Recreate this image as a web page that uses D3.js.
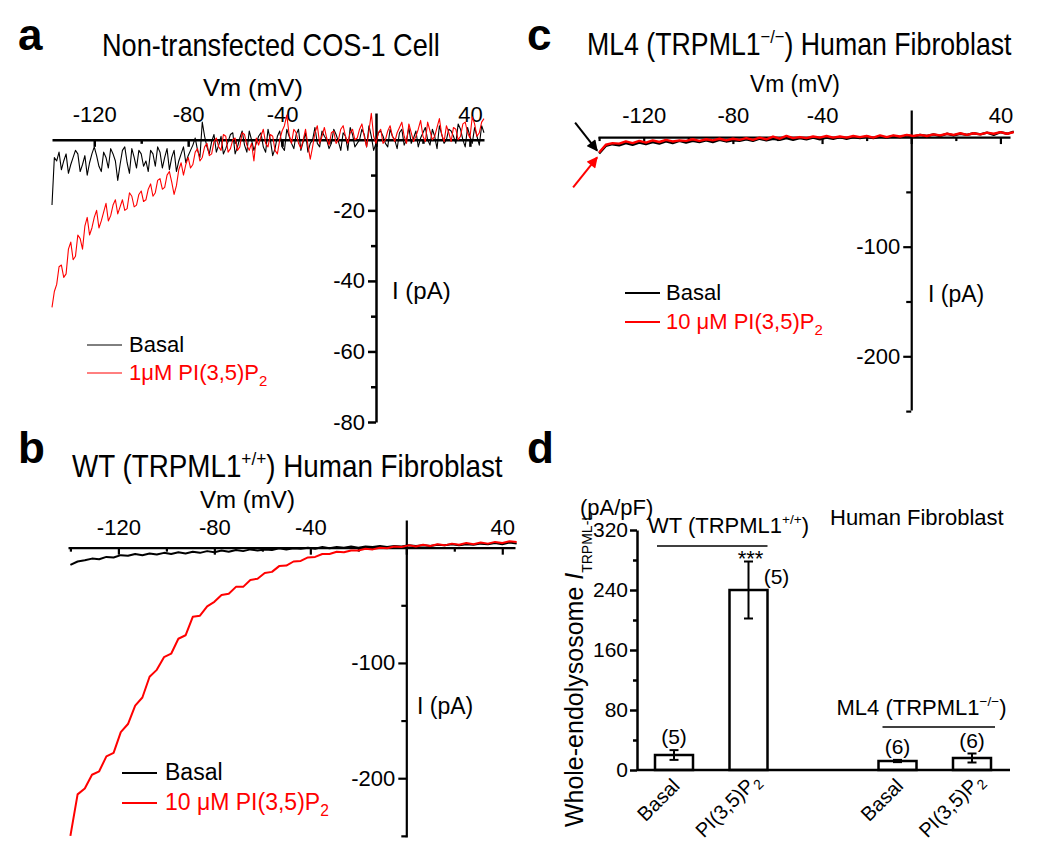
<!DOCTYPE html>
<html>
<head>
<meta charset="utf-8">
<script src="https://cdn.jsdelivr.net/npm/d3@7"></script>
<style>
  body { margin: 0; background: #fff; }
</style>
</head>
<body>
<svg id="fig" width="1050" height="846"></svg>
<script>
// ---------- data ----------
// panel a: non-transfected COS-1, sweep -138..46 mV, 1 mV per sample
const vmA = [-138,-137,-136,-135,-134,-133,-132,-131,-130,-129,-128,-127,-126,-125,-124,-123,-122,-121,-120,-119,
  -118,-117,-116,-115,-114,-113,-112,-111,-110,-109,-108,-107,-106,-105,-104,-103,-102,-101,-100,-99,
  -98,-97,-96,-95,-94,-93,-92,-91,-90,-89,-88,-87,-86,-85,-84,-83,-82,-81,-80,-79,
  -78,-77,-76,-75,-74,-73,-72,-71,-70,-69,-68,-67,-66,-65,-64,-63,-62,-61,-60,-59,
  -58,-57,-56,-55,-54,-53,-52,-51,-50,-49,-48,-47,-46,-45,-44,-43,-42,-41,-40,-39,
  -38,-37,-36,-35,-34,-33,-32,-31,-30,-29,-28,-27,-26,-25,-24,-23,-22,-21,-20,-19,
  -18,-17,-16,-15,-14,-13,-12,-11,-10,-9,-8,-7,-6,-5,-4,-3,-2,-1,0,1,
  2,3,4,5,6,7,8,9,10,11,12,13,14,15,16,17,18,19,20,21,
  22,23,24,25,26,27,28,29,30,31,32,33,34,35,36,37,38,39,40,41,
  42,43,44,45,46];
const basalA = [-18.5,-5,-6,-3.5,-8.5,-6,-4,-9.5,-7,-5, -3,-4,-9,-7,-4.5,-10,-6.5,-4,-2,-4.5,
  -7.5,-9,-3.5,-5,-8,-2.5,-4,-6,-11.5,-7, -3,-2,-6.5,-9.5,-2.5,-5,-8,-3,-4,-7.5,
  -6,-9,-3,-4,-7.5,-2,-3.5,-8,-5,-2.5, -8.5,-5,-3,-9,-6,-4,-2,-6.5,-4.5,-3,
  -1.5,0.5,-3,-5,5,1,-2,-4,-0.5,1.5, -3.5,-1.5,1,-4,-2.5,-0.5,1.5,2,-4,-2,
  0.5,2.5,-1.5,-3.5,2.5,0,-3,-1,1,2, -2,-3.5,3,0,-4.5,-2.5,1,2.5,-2,-3,
  3,1,-1,-2.5,1.5,3,-3,-0.5,2,-3.5, -1,0,3.5,-1,-2,2.5,1,0,-2.5,-1,
  3,1.5,-0.5,-3,2,1,-3,3.5,1.5,-2, -1,0,3,1.5,-2,4,1,-3,-1,2,
  2.5,1,-1,-2,3,1,0,-2.5,2,3, -1.5,0,3.5,-1,0.5,2.5,-2,0.5,2,3.5,
  0,-1.5,3,1,-2.5,4,1.5,-1,0,3, 2.5,1,-1,4.5,3,0,-2,3.5,1,-1,
  3.5,1,-1.5,4,2];
const pipA = [-47.5,-43,-41,-36,-35.5,-39,-38,-31,-29,-34, -33,-27,-28,-31,-24.5,-22,-27,-25,-22,-20,
  -25,-23,-20.5,-18,-23,-21.5,-18.5,-17,-21,-19, -17,-20,-19.5,-15,-16,-19,-18.5,-15.5,-14.5,-17.5,
  -17,-14,-12.5,-16,-15,-11.5,-11,-14,-13.5,-10, -9,-12,-15.5,-13,-8.5,-6.5,-10,-7,-5,-8,
  -7,-3.5,-2.5,-6,-5,-2,-1,-4.5,-4,-0.5, 0.5,-2,-3,1.5,1,-3.5,-2.5,0,0.5,-3,
  -2,2,1.5,-1.5,-3,-1,-6,0.5,-1.5,1, 3,-1,-2,1.5,1,-3,-4,0,2.5,4,
  7,1.5,-1,3,2,-1,-2.5,0,3,-1.5, -5.5,-2,2,4,-1,1,3.5,0.5,-1.5,2,
  2.5,-1,0,3,4,1,-1,2,3,0, 0.5,3,4.5,1,-2,2.5,7.5,1,-1,2,
  3,-1,0,2.5,4,1,-0.5,2,3.5,5, 1,-1,4.5,2,-0.5,1,3,5.5,1,-0.5,
  5,2.5,0,1,3.5,6,1.5,-0.5,4,2, -0.5,3.5,3,0,1,4.5,5,2,0.5,6.5,
  4.5,1,2,5,6];

// panels b and c: human fibroblasts, sweep -140..46 mV
const vmBC = [-140,-137,-134,-131,-128,-125,-122,-119,-116,-113,-110,-107,-104,-101,-98,-95,-92,-89,-86,-83,
  -80,-77,-74,-71,-68,-65,-62,-59,-56,-53,-50,-47,-44,-41,-38,-35,-32,-29,-26,-23,-20,-17,-14,-11,-8,-5,-2,
  1,4,7,10,13,16,19,22,25,28,31,34,37,40,43,46];
const basalB = [-15,-12,-11,-9.5,-10,-8,-8.5,-6.5,-7,-5.5, -6.5,-5,-6,-4.5,-5.5,-4,-5,-3.5,-4.5,-3,
  -4,-2.5,-3.5,-2,-3,-1.5,-2.5,-1.5,-2,-0.5, -1.5,-0.5,-1,0,-1,0.5,-0.5,0.5,0,1,
  0,1,0.5,1.5,0.5,1.5,1,2,1.5,2, 1.5,2.5,2,3,2,3,2.5,3.5,3,4, 3,4.5,3.5];
const pipB = [-250,-214,-209,-197,-194,-181,-178,-160,-153,-137, -130,-112,-106,-95,-92,-79,-76,-60,-59,-51,
  -47,-41,-40,-34,-34,-28,-27,-22,-21,-16, -15.5,-12,-11.5,-8.5,-8,-5.5,-5.5,-3.5,-4,-2.5,
  -2.5,-1,-1.5,0,-0.5,1,0.5,2,1,2.5, 1.5,3,2,3.5,2.5,4,3,4.5,3.5,5, 4,5.5,5];
const basalC = [-15,-8,-6.5,-7.5,-5.5,-7,-5,-6.5,-4.5,-6, -4,-5.5,-3.5,-5,-3.5,-4.5,-3,-4.5,-2.5,-4,
  -3,-3.5,-2,-3.5,-1.5,-3,-1.5,-2.5,-1,-2.5, -1,-2,-0.5,-2,-0.5,-1.5,0,-1.5,0,-1,
  0.5,-1,0.5,-0.5,1,0,1.5,0.5,2,1, 2.5,1,3,1.5,3,2,3.5,2.5,4,2, 4.5,3,5];
const pipC = [-14,-7,-5.5,-6,-4,-5.5,-3.5,-5,-3,-4.5, -2.5,-4,-3,-3.5,-2,-3.5,-2,-3,-1.5,-3,
  -1.5,-2.5,-1,-2.5,-0.5,-2,0.5,-1.5,1,-1, 0,-1,0.5,-0.5,1,-0.5,0.5,-0.5,1,0,
  1,-0.5,1.5,0,1.5,0.5,2,1,2,1, 2.5,1.5,3,2,3.5,2,3.5,2.5,4,3, 4.5,3,4.5];

// panel d: whole-endolysosome current density (pA/pF)
const barGroups = ["WT", "ML4"];
const barConds = ["Basal", "PI(3,5)P"];
const barMeans = [[20, 240], [12, 16]];
const barSems = [[6.5, 38], [1.5, 6]];
const barN = [[5, 5], [6, 6]];
const barStars = [["", "***"], ["", ""]];

// ---------- drawing ----------
const svg = d3.select("#fig");
const RED = "#ff0000";
const FONT = '"Liberation Sans", Arial, Helvetica, sans-serif';
svg.attr("font-family", FONT);

// text with optional super/subscripts; width squeezes it horizontally
function addText(x, y, size, parts, opts = {}) {
  const host = opts.parent || svg;
  const t = host.append("text").attr("x", x).attr("y", y)
    .attr("font-size", size).attr("fill", opts.fill || "#000");
  if (opts.anchor) t.attr("text-anchor", opts.anchor);
  if (opts.weight) t.attr("font-weight", opts.weight);
  if (typeof parts === "string") parts = [{ t: parts }];
  let shift = 0;
  parts.forEach(p => {
    let target = 0, fsz = size;
    if (p.sup) { target = -0.4 * size; fsz = 0.62 * size; }
    if (p.sub) { target = p.shift != null ? p.shift : 0.25 * size; fsz = p.size || 0.68 * size; }
    const ts = t.append("tspan").attr("dy", target - shift).attr("font-size", fsz).text(p.t);
    if (p.italic) ts.attr("font-style", "italic");
    shift = target;
  });
  if (opts.width) {
    const w = t.node().getBBox().width;
    t.attr("x", null).attr("y", null)
      .attr("transform", `translate(${x},${y}) scale(${opts.width / w},1)`);
  }
  if (opts.rotate != null) {
    t.attr("x", null).attr("y", null)
      .attr("transform", `translate(${x},${y}) rotate(${opts.rotate})`);
  }
  return t;
}

function styleAxis(a, w, fs) {
  a.attr("font-family", FONT).attr("font-size", fs);
  a.selectAll("path, line").attr("stroke", "#000").attr("stroke-width", w);
  a.selectAll("text").attr("fill", "#000");
}

function drawIV(p) {
  const x = d3.scaleLinear().domain(p.xDomain).range(p.xRange);
  const y = d3.scaleLinear().domain(p.yDomain).range(p.yRange);
  const g = svg.append("g");
  const fmt = d => d === 0 ? "" : String(d);

  // x axis sits on I = 0, labels above, ticks hanging down
  g.append("g").attr("transform", `translate(0,${y(0)})`)
    .call(d3.axisTop(x).tickValues(p.xMinor).tickSizeInner(-4).tickSizeOuter(0).tickFormat(""))
    .call(a => a.select(".domain").remove())
    .call(a => styleAxis(a, p.axisW, 22));
  g.append("g").attr("transform", `translate(0,${y(0)})`)
    .call(d3.axisTop(x).tickValues([-120, -80, -40, 0, 40]).tickSizeInner(-7).tickSizeOuter(0)
      .tickPadding(p.xPad).tickFormat(fmt))
    .call(a => styleAxis(a, p.axisW, 22));

  // y axis sits on Vm = 0
  g.append("g").attr("transform", `translate(${x(0)},0)`)
    .call(d3.axisLeft(y).tickValues(p.yMinor).tickSizeInner(5).tickSizeOuter(0).tickFormat(""))
    .call(a => a.select(".domain").remove())
    .call(a => styleAxis(a, p.axisW, 22));
  g.append("g").attr("transform", `translate(${x(0)},0)`)
    .call(d3.axisLeft(y).tickValues(p.yTicks).tickSizeInner(8).tickSizeOuter(0)
      .tickPadding(3).tickFormat(fmt))
    .call(a => styleAxis(a, p.axisW, 22));

  const line = d3.line().x((d, i) => x(p.vm[i])).y(d => y(d));
  g.append("path").datum(p.basal).attr("d", line)
    .attr("fill", "none").attr("stroke", "#000").attr("stroke-width", p.traceW)
    .attr("stroke-linejoin", "round");
  g.append("path").datum(p.pip).attr("d", line)
    .attr("fill", "none").attr("stroke", RED).attr("stroke-width", p.traceW)
    .attr("stroke-linejoin", "round");

  // labels
  addText(p.letter[0], p.letter[1], 44, p.letter[2], { weight: "bold" });
  addText(p.title[0], p.title[1], 31, p.titleParts, { width: p.title[2] });
  addText(p.vmLab[0], p.vmLab[1], 24, "Vm (mV)", { width: p.vmLab[2] });
  addText(p.iLab[0], p.iLab[1], p.iLab[2], "I (pA)");

  // legend
  const L = p.legend;
  g.append("line").attr("x1", L.x1).attr("x2", L.x2).attr("y1", L.y[0]).attr("y2", L.y[0])
    .attr("stroke", "#000").attr("stroke-width", L.w);
  g.append("line").attr("x1", L.x1).attr("x2", L.x2).attr("y1", L.y[1]).attr("y2", L.y[1])
    .attr("stroke", RED).attr("stroke-width", L.w);
  addText(L.tx, L.y[0] + 7, L.fs, "Basal");
  addText(L.tx, L.y[1] + 7, L.fs, L.redParts, { fill: RED });

  return { x, y };
}

const p2 = [{ t: "2", sub: true, shift: 6 }];

drawIV({
  vm: vmA, basal: basalA, pip: pipA,
  xDomain: [-138, 46], xRange: [52, 484],
  yDomain: [-80, 7.6], yRange: [422, 113],
  xMinor: [-100, -60, -20, 20], yTicks: [-20, -40, -60, -80], yMinor: [-10, -30, -50, -70],
  xPad: 18, axisW: 2.5, traceW: 1.1,
  letter: [18, 50, "a"],
  title: [102, 56, 338], titleParts: "Non-transfected COS-1 Cell",
  vmLab: [203, 96, 100], iLab: [392, 299, 24],
  legend: { x1: 87, x2: 122, y: [345, 373], w: 1, tx: 129, fs: 22,
    redParts: [{ t: "1\u03bcM PI(3,5)P" }].concat(p2) }
});

drawIV({
  vm: vmBC, basal: basalB, pip: pipB,
  xDomain: [-141, 45.3], xRange: [68, 515],
  yDomain: [-251, 24], yRange: [837, 520],
  xMinor: [-140, -100, -60, -20, 20], yTicks: [-100, -200], yMinor: [-50, -150, -250],
  xPad: 13, axisW: 2.2, traceW: 2,
  letter: [18, 463, "b"],
  title: [72, 477, 431],
  titleParts: [{ t: "WT (TRPML1" }, { t: "+/+", sup: true }, { t: ") Human Fibroblast" }],
  vmLab: [200, 508, 95], iLab: [417, 714, 23],
  legend: { x1: 122, x2: 157, y: [773, 803], w: 2, tx: 165, fs: 23,
    redParts: [{ t: "10 \u03bcM PI(3,5)P" }].concat(p2) }
});

const cS = drawIV({
  vm: vmBC, basal: basalC, pip: pipC,
  xDomain: [-140.5, 44.3], xRange: [598, 1010],
  yDomain: [-249, 24.7], yRange: [410, 110],
  xMinor: [-140, -100, -60, -20, 20], yTicks: [-100, -200], yMinor: [-50, -150, -250],
  xPad: 14, axisW: 2.2, traceW: 2.4,
  letter: [527, 50, "c"],
  title: [587, 55, 425],
  titleParts: [{ t: "ML4 (TRPML1" }, { t: "\u2212/\u2212", sup: true }, { t: ") Human Fibroblast" }],
  vmLab: [750, 92, 90], iLab: [928, 302, 23],
  legend: { x1: 625, x2: 660, y: [293, 322], w: 2, tx: 666, fs: 22,
    redParts: [{ t: "10 \u03bcM PI(3,5)P" }].concat(p2) }
});

// arrows pointing at the start of the two ML4 traces
const defs = svg.append("defs");
[["ahK", "#000"], ["ahR", RED]].forEach(([id, c]) => {
  defs.append("marker").attr("id", id).attr("viewBox", "0 0 10 10")
    .attr("refX", 9).attr("refY", 5).attr("markerWidth", 12).attr("markerHeight", 11)
    .attr("markerUnits", "userSpaceOnUse").attr("orient", "auto")
    .append("path").attr("d", "M0,0L10,5L0,10z").attr("fill", c);
});
const tipX = cS.x(vmBC[0]);
const tipK = cS.y(basalC[0]), tipR = cS.y(pipC[0]);
svg.append("line").attr("x1", tipX - 24).attr("y1", tipK - 31).attr("x2", tipX - 2).attr("y2", tipK - 3)
  .attr("stroke", "#000").attr("stroke-width", 2).attr("marker-end", "url(#ahK)");
svg.append("line").attr("x1", tipX - 26).attr("y1", tipR + 35).attr("x2", tipX - 2).attr("y2", tipR + 5)
  .attr("stroke", RED).attr("stroke-width", 2).attr("marker-end", "url(#ahR)");

// ---------- panel d ----------
const yD = d3.scaleLinear().domain([0, 320]).range([770, 530]);
const slot = d3.scaleLinear().domain([0, 4]).range([674, 972]);
const barW = 38;
const dAxisX = 637, dAxisEnd = 1010;
const gd = svg.append("g");

gd.append("g").attr("transform", `translate(${dAxisX},0)`)
  .call(d3.axisLeft(yD).tickValues([40, 120, 200, 280]).tickSizeInner(4).tickSizeOuter(0).tickFormat(""))
  .call(a => a.select(".domain").remove())
  .call(a => styleAxis(a, 2.5, 21));
gd.append("g").attr("transform", `translate(${dAxisX},0)`)
  .call(d3.axisLeft(yD).tickValues([0, 80, 160, 240, 320]).tickSizeInner(7).tickSizeOuter(0).tickPadding(2))
  .call(a => styleAxis(a, 2.5, 21));

const bars = [];
barGroups.forEach((grp, gi) => barConds.forEach((c, ci) => bars.push({
  gi, ci, cond: c, mean: barMeans[gi][ci], sem: barSems[gi][ci], n: barN[gi][ci],
  stars: barStars[gi][ci], cx: slot(gi * 3 + ci)
})));

gd.selectAll("rect.bar").data(bars).join("rect").attr("class", "bar")
  .attr("x", d => d.cx - barW / 2).attr("y", d => yD(d.mean))
  .attr("width", barW).attr("height", d => yD(0) - yD(d.mean))
  .attr("fill", "#fff").attr("stroke", "#000").attr("stroke-width", 2.5);

gd.append("line").attr("x1", dAxisX).attr("x2", dAxisEnd).attr("y1", yD(0)).attr("y2", yD(0))
  .attr("stroke", "#000").attr("stroke-width", 2.5);

bars.forEach(d => {
  const lo = yD(d.mean - d.sem), hi = yD(d.mean + d.sem);
  gd.append("line").attr("x1", d.cx).attr("x2", d.cx).attr("y1", lo).attr("y2", hi)
    .attr("stroke", "#000").attr("stroke-width", 2);
  [lo, hi].forEach(v => gd.append("line").attr("x1", d.cx - 4.5).attr("x2", d.cx + 4.5)
    .attr("y1", v).attr("y2", v).attr("stroke", "#000").attr("stroke-width", 2));
  if (d.stars) {
    addText(d.cx + 2, hi + 4, 22, d.stars, { anchor: "middle" });
    addText(d.cx + 28, yD(d.mean) - 6, 21, `(${d.n})`, { anchor: "middle" });
  } else {
    addText(d.cx, hi - 6, 21, `(${d.n})`, { anchor: "middle" });
  }
  // category label, rotated; the subscript 2 hangs past the anchor
  const lab = gd.append("g").attr("transform", `translate(${d.cx + 7},${yD(0) + 17}) rotate(-45)`);
  addText(0, 0, 20, d.cond, { anchor: "end", parent: lab });
  if (d.ci === 1) addText(0, 5, 14, " 2", { parent: lab });
});

// genotype brackets
const wtLeft = slot(0) - 17, wtRight = slot(1) + 19;
gd.append("line").attr("x1", wtLeft).attr("x2", wtRight).attr("y1", 546).attr("y2", 546)
  .attr("stroke", "#000").attr("stroke-width", 1.5);
addText(wtLeft - 9, 533, 22, [{ t: "WT (TRPML1" }, { t: "+/+", sup: true }, { t: ")" }]);
const mlLeft = slot(3) - 15, mlRight = slot(4) + 23;
gd.append("line").attr("x1", mlLeft).attr("x2", mlRight).attr("y1", 727).attr("y2", 727)
  .attr("stroke", "#000").attr("stroke-width", 1.5);
addText(mlLeft - 46, 715, 22, [{ t: "ML4 (TRPML1" }, { t: "\u2212/\u2212", sup: true }, { t: ")" }]);

addText(830, 525, 22, "Human Fibroblast");
addText(580, 515, 22, "(pA/pF)");
addText(527, 463, 44, "d", { weight: "bold" });
addText(583, 670, 25, [{ t: "Whole-endolysosome " }, { t: "I", italic: true },
  { t: "TRPML-L", sub: true, shift: 9, size: 14 }], { anchor: "middle", rotate: -90 });
</script>
</body>
</html>
